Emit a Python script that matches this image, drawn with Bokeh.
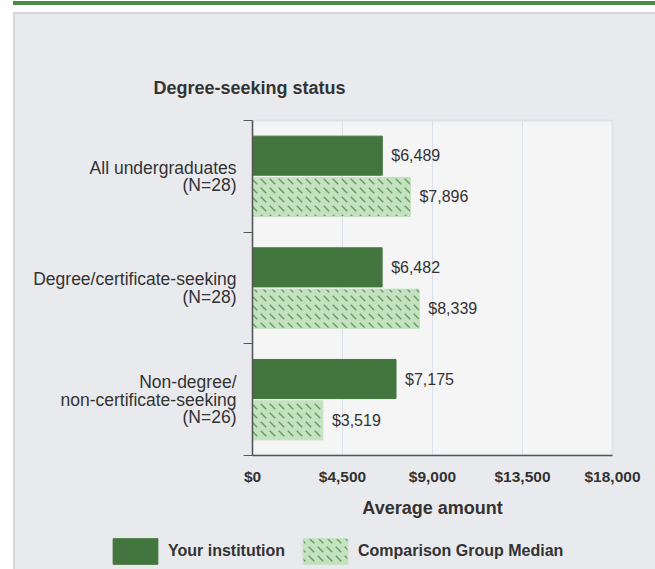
from bokeh.plotting import figure
from bokeh.models import (Range1d, FixedTicker, NumeralTickFormatter, ColumnDataSource,
                          LabelSet, Legend, LegendItem, Div)
from bokeh.layouts import column
from bokeh.core.properties import value
from bokeh.embed import file_html
from bokeh.resources import INLINE

categories = ["All undergraduates\n(N=28)", "Degree/certificate-seeking\n(N=28)",
              "Non-degree/\nnon-certificate-seeking\n(N=26)"]
institution = [6489, 6482, 7175]
comparison = [7896, 8339, 3519]
x_ticks = [0, 4500, 9000, 13500, 18000]
series_names = ["Your institution", "Comparison Group Median"]
title_text = "Degree-seeking status"
x_title = "Average amount"

FONT = "Liberation Sans"
TXT = "#333333"
DARK = "#43763f"
LIGHT = "#c4e2c0"
PANEL = "#e9eaee"
EDGE = "#d5d6d9"
HATCH = dict(hatch_pattern="`", hatch_color="#4f8f4a", hatch_scale=9,
             hatch_weight=1.4, hatch_alpha=0.85)

centers = [i + 0.5 for i in range(len(categories))]
src = ColumnDataSource(dict(
    c=centers,
    y1=[c - 0.185 for c in centers], y2=[c + 0.185 for c in centers],
    v1=institution, v2=comparison,
    t1=["${:,}".format(v) for v in institution],
    t2=["${:,}".format(v) for v in comparison],
))

p = figure(width=640, height=511, output_backend="svg", toolbar_location=None,
           x_range=Range1d(0, 18000), y_range=Range1d(3, 0),
           min_border_left=237, min_border_right=43, min_border_top=106,
           min_border_bottom=70, title=title_text, margin=(0, 0, 0, 15))
p.border_fill_color = PANEL
p.background_fill_color = "#f5f5f5"
p.outline_line_color = "#dde1e8"
p.outline_line_width = 2

p.title.align = "left"
p.title.offset = -99
p.title.standoff = 45
p.title.text_font = FONT
p.title.text_font_size = "18px"
p.title.text_font_style = "bold"
p.title.text_color = TXT

r1 = p.hbar(y="y1", right="v1", left=0, height=0.35, source=src,
            fill_color=DARK, line_color=DARK)
r2 = p.hbar(y="y2", right="v2", left=0, height=0.35, source=src,
            fill_color=LIGHT, line_color=LIGHT, **HATCH)

# grid
p.ygrid.visible = False
p.xgrid.ticker = FixedTicker(ticks=x_ticks)
p.xgrid.grid_line_color = "#dbe1ec"

# x axis
p.xaxis.ticker = FixedTicker(ticks=x_ticks)
p.xaxis.formatter = NumeralTickFormatter(format="$0,0")
p.xaxis.major_tick_out = 0
p.xaxis.major_tick_in = 0
p.xaxis.minor_tick_out = 0
p.xaxis.minor_tick_in = 0
p.xaxis.axis_line_color = "#555555"
p.xaxis.axis_line_width = 1.5
p.xaxis.major_label_text_font = FONT
p.xaxis.major_label_text_font_size = "15.5px"
p.xaxis.major_label_text_font_style = "bold"
p.xaxis.major_label_text_color = TXT
p.xaxis.major_label_standoff = 12
p.xaxis.axis_label = x_title
p.xaxis.axis_label_text_font = FONT
p.xaxis.axis_label_text_font_size = "18px"
p.xaxis.axis_label_text_font_style = "bold"
p.xaxis.axis_label_text_color = TXT
p.xaxis.axis_label_standoff = 10

# y axis: category labels at centres, boundary ticks as minor ticks
p.yaxis.ticker = FixedTicker(ticks=centers, minor_ticks=[0, 1, 2, 3])
p.yaxis.major_label_overrides = {c: t for c, t in zip(centers, categories)}
p.yaxis.major_tick_out = 0
p.yaxis.major_tick_in = 0
p.yaxis.minor_tick_out = 9
p.yaxis.minor_tick_in = 0
p.yaxis.minor_tick_line_color = "#555555"
p.yaxis.axis_line_color = "#555555"
p.yaxis.axis_line_width = 1.5
p.yaxis.major_label_standoff = 7
p.yaxis.major_label_text_font = FONT
p.yaxis.major_label_text_font_size = "17.5px"
p.yaxis.major_label_text_line_height = 0.88
p.yaxis.major_label_text_color = TXT

# value labels
for xs, ys, ts in (("v1", "y1", "t1"), ("v2", "y2", "t2")):
    p.add_layout(LabelSet(x=xs, y=ys, text=ts, source=src, x_offset=9,
                          text_align="left", text_baseline="middle",
                          text_font=value(FONT), text_font_size="16px",
                          text_color=TXT))

# legend strip
lg = figure(width=640, height=44, output_backend="svg", toolbar_location=None,
            x_range=Range1d(0, 1), y_range=Range1d(0, 1), min_border=0,
            margin=(0, 0, 0, 15))
lg.frame_align = False
lg.axis.visible = False
lg.grid.visible = False
lg.outline_line_color = None
lg.background_fill_color = PANEL
lg.border_fill_color = PANEL
offscreen = ColumnDataSource(dict(y=[-10], right=[0]))
l1 = lg.hbar(y="y", right="right", height=0.5, source=offscreen,
             fill_color=DARK, line_color=DARK)
l2 = lg.hbar(y="y", right="right", height=0.5, source=offscreen,
             fill_color=LIGHT, line_color=LIGHT, **HATCH)
legend = Legend(items=[LegendItem(label=series_names[0], renderers=[l1]),
                       LegendItem(label=series_names[1], renderers=[l2])],
                orientation="horizontal", location=(92, 2),
                glyph_width=56, glyph_height=32, label_standoff=5, spacing=12,
                padding=0, margin=0, background_fill_alpha=0, border_line_alpha=0,
                label_text_font=FONT, label_text_font_size="16px",
                label_text_font_style="bold", label_text_color=TXT)
lg.add_layout(legend, "center")

top = Div(text="", width=655, height=14, margin=0,
          styles={"background": "linear-gradient(to right, #ffffff 13px, transparent 13px), "
                                "linear-gradient(to bottom, #ffffff 1px, #4b8a4b 1px, "
                                "#4b8a4b 5px, #ffffff 5px, #ffffff 12px, "
                                + EDGE + " 12px)"})
root = column(top, p, lg, spacing=0)
root.styles = {"background": "linear-gradient(to right, #ffffff 13px, " + EDGE + " 13px, "
                             + EDGE + " 15px, " + PANEL + " 15px)"}

open("out.html", "w").write(file_html(root, INLINE))
